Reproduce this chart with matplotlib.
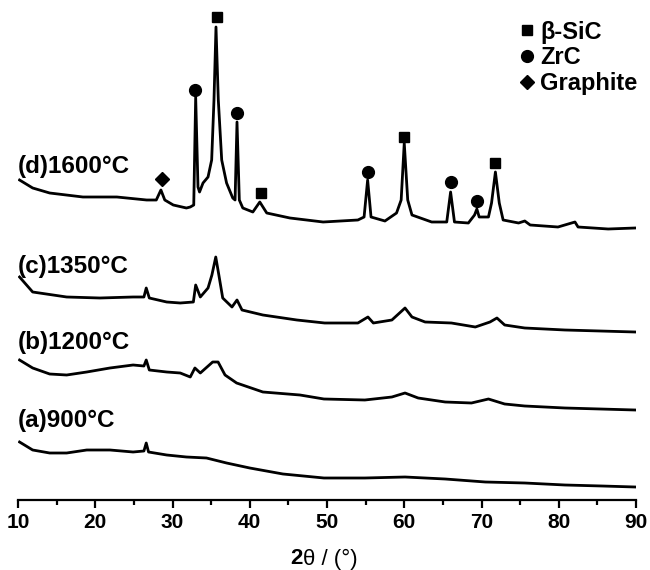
import matplotlib
matplotlib.use("Agg")
import matplotlib.pyplot as plt
from matplotlib.lines import Line2D

plt.rcParams['font.family'] = ['Liberation Sans', 'DejaVu Sans']

# ---- data (2theta in degrees, offset intensity in a.u.) ----
x_a = [10.2, 11.9, 14.1, 16.3, 18.9, 21.9, 24.9, 26.3, 26.6, 26.9, 29.25, 31.8, 34.4, 37.0, 40.0,
       44.3, 49.6, 54.9, 60.1, 65.3, 70.5, 75.6, 80.8, 85.6, 89.9]
y_a = [58, 50, 47, 47, 50, 50, 48, 49, 57, 48, 45, 43, 42, 37, 32,
       26, 22, 22, 23, 21, 18, 17, 15, 14, 13]

x_b = [10.2, 11.9, 14.1, 16.3, 18.9, 21.9, 24.9, 26.3, 26.6, 27.0, 29.25, 31.0, 32.3, 32.9, 33.6,
       35.2, 35.9, 36.8, 38.3, 41.7, 46.5, 49.6, 54.9, 58.4, 60.1, 61.8, 65.3, 68.7, 70.9, 73.0,
       75.6, 80.8, 89.9]
y_b = [140, 132, 126, 125, 128, 132, 135, 134, 140, 130, 128, 127, 123, 132, 127,
       138, 138, 125, 117, 108, 105, 101, 100, 103, 107, 102, 98, 97, 101, 96,
       94, 92, 90]

x_c = [10.2, 11.9, 16.3, 20.6, 24.9, 26.3, 26.6, 27.0, 29.25, 31.0, 32.7, 33.0, 33.6, 34.6, 35.1,
       35.6, 36.0, 36.5, 37.7, 38.35, 39.0, 41.7, 46.1, 49.7, 54.0, 55.3, 56.0, 58.4, 60.1, 61.0,
       62.7, 66.1, 69.2, 71.1, 72.0, 73.0, 75.6, 80.8, 89.9]
y_c = [223, 208, 203, 202, 203, 203, 212, 202, 198, 197, 198, 215, 203, 212, 225,
       243, 225, 202, 193, 200, 190, 185, 180, 177, 177, 183, 177, 180, 192, 183,
       178, 177, 173, 178, 182, 175, 172, 170, 168]

x_d = [10.2, 11.9, 14.1, 18.4, 22.8, 26.65, 27.9, 28.5, 29.0, 30.1, 31.8, 32.3, 32.75, 33.0, 33.3,
       33.5, 33.95, 34.6, 35.07, 35.37, 35.63, 35.93, 36.37, 37.0, 37.8, 38.1, 38.35, 38.65, 39.1, 40.4,
       41.3, 42.2, 45.2, 49.5, 54.0, 54.8, 55.26, 55.7, 57.5, 59.0, 59.6, 60.0, 60.45, 61.0, 63.55,
       65.5, 66.0, 66.5, 68.3, 69.1, 69.4, 69.7, 70.9, 71.3, 71.8, 72.3, 72.8, 74.8, 75.6, 76.3,
       79.9, 82.1, 82.5, 86.4, 89.9]
y_d = [320, 312, 307, 303, 303, 300, 300, 310, 300, 295, 292, 293, 295, 403, 313,
       308, 317, 323, 340, 400, 473, 400, 340, 317, 302, 300, 378, 300, 292, 288,
       298, 287, 282, 278, 280, 283, 320, 283, 279, 287, 300, 357, 300, 285, 278,
       278, 308, 278, 277, 285, 291, 283, 283, 297, 328, 297, 280, 277, 279, 275,
       273, 278, 273, 271, 272]

curve_labels = ["(a)900°C", "(b)1200°C", "(c)1350°C", "(d)1600°C"]
label_y = [79, 157, 233, 334]

# phase markers (peak position, marker height)
sic_x = [35.7, 41.45, 60.0, 71.8]
sic_y = [483, 307, 363, 337]
zrc_x = [32.9, 38.3, 55.3, 66.0, 69.4]
zrc_y = [410, 387, 328, 318, 299]
gra_x = [28.6]
gra_y = [321]

phase_names = ["β-SiC", "ZrC", "Graphite"]
xticks = [10, 20, 30, 40, 50, 60, 70, 80, 90]

# ---- figure ----
fig = plt.figure(figsize=(6.5, 5.7), dpi=100)
ax = fig.add_axes([18 / 650, 70 / 570, 618 / 650, 500 / 570])

for xs, ys in [(x_a, y_a), (x_b, y_b), (x_c, y_c), (x_d, y_d)]:
    ax.plot(xs, ys, color='black', lw=2.0, solid_joinstyle='round')

ax.plot(sic_x, sic_y, 's', color='black', ms=7.5, ls='none')
ax.plot(zrc_x, zrc_y, 'o', color='black', ms=8.5, ls='none')
ax.plot(gra_x, gra_y, 'D', color='black', ms=7.0, ls='none')

for lab, ly in zip(curve_labels, label_y):
    ax.text(10.0, ly, lab, fontsize=17.5, fontweight='bold', ha='left', va='center')

ax.set_xlim(10, 90)
ax.set_ylim(0, 500)
ax.set_xticks(xticks)
ax.set_xticklabels([str(t) for t in xticks])
ax.set_xticks([15, 25, 35, 45, 55, 65, 75, 85], minor=True)
ax.tick_params(axis='x', which='major', length=6, width=1.6, direction='out', pad=3,
               labelsize=15)
ax.tick_params(axis='x', which='minor', length=3.5, width=1.6, direction='out')
for lbl in ax.get_xticklabels():
    lbl.set_fontweight('bold')
ax.set_yticks([])
for s in ['left', 'right', 'top']:
    ax.spines[s].set_visible(False)
ax.spines['bottom'].set_linewidth(1.6)

# legend
handles = [Line2D([], [], marker='s', color='black', ls='none', ms=7.5),
           Line2D([], [], marker='o', color='black', ls='none', ms=8.5),
           Line2D([], [], marker='D', color='black', ls='none', ms=7.0)]
leg = ax.legend(handles, phase_names, loc='upper left', bbox_to_anchor=(0.786, 0.992),
                frameon=False, handlelength=0.6, handletextpad=0.25, labelspacing=0.12,
                borderaxespad=0.3, prop={'size': 17, 'weight': 'bold'})

# x axis title: bold "2", normal rest
fig.text(303 / 650, 1 - 559 / 570, "2", fontsize=16, fontweight='bold', ha='right', va='center')
fig.text(303 / 650, 1 - 559 / 570, "θ / (°)", fontsize=16, ha='left', va='center')

fig.savefig("out.png", dpi=100)
